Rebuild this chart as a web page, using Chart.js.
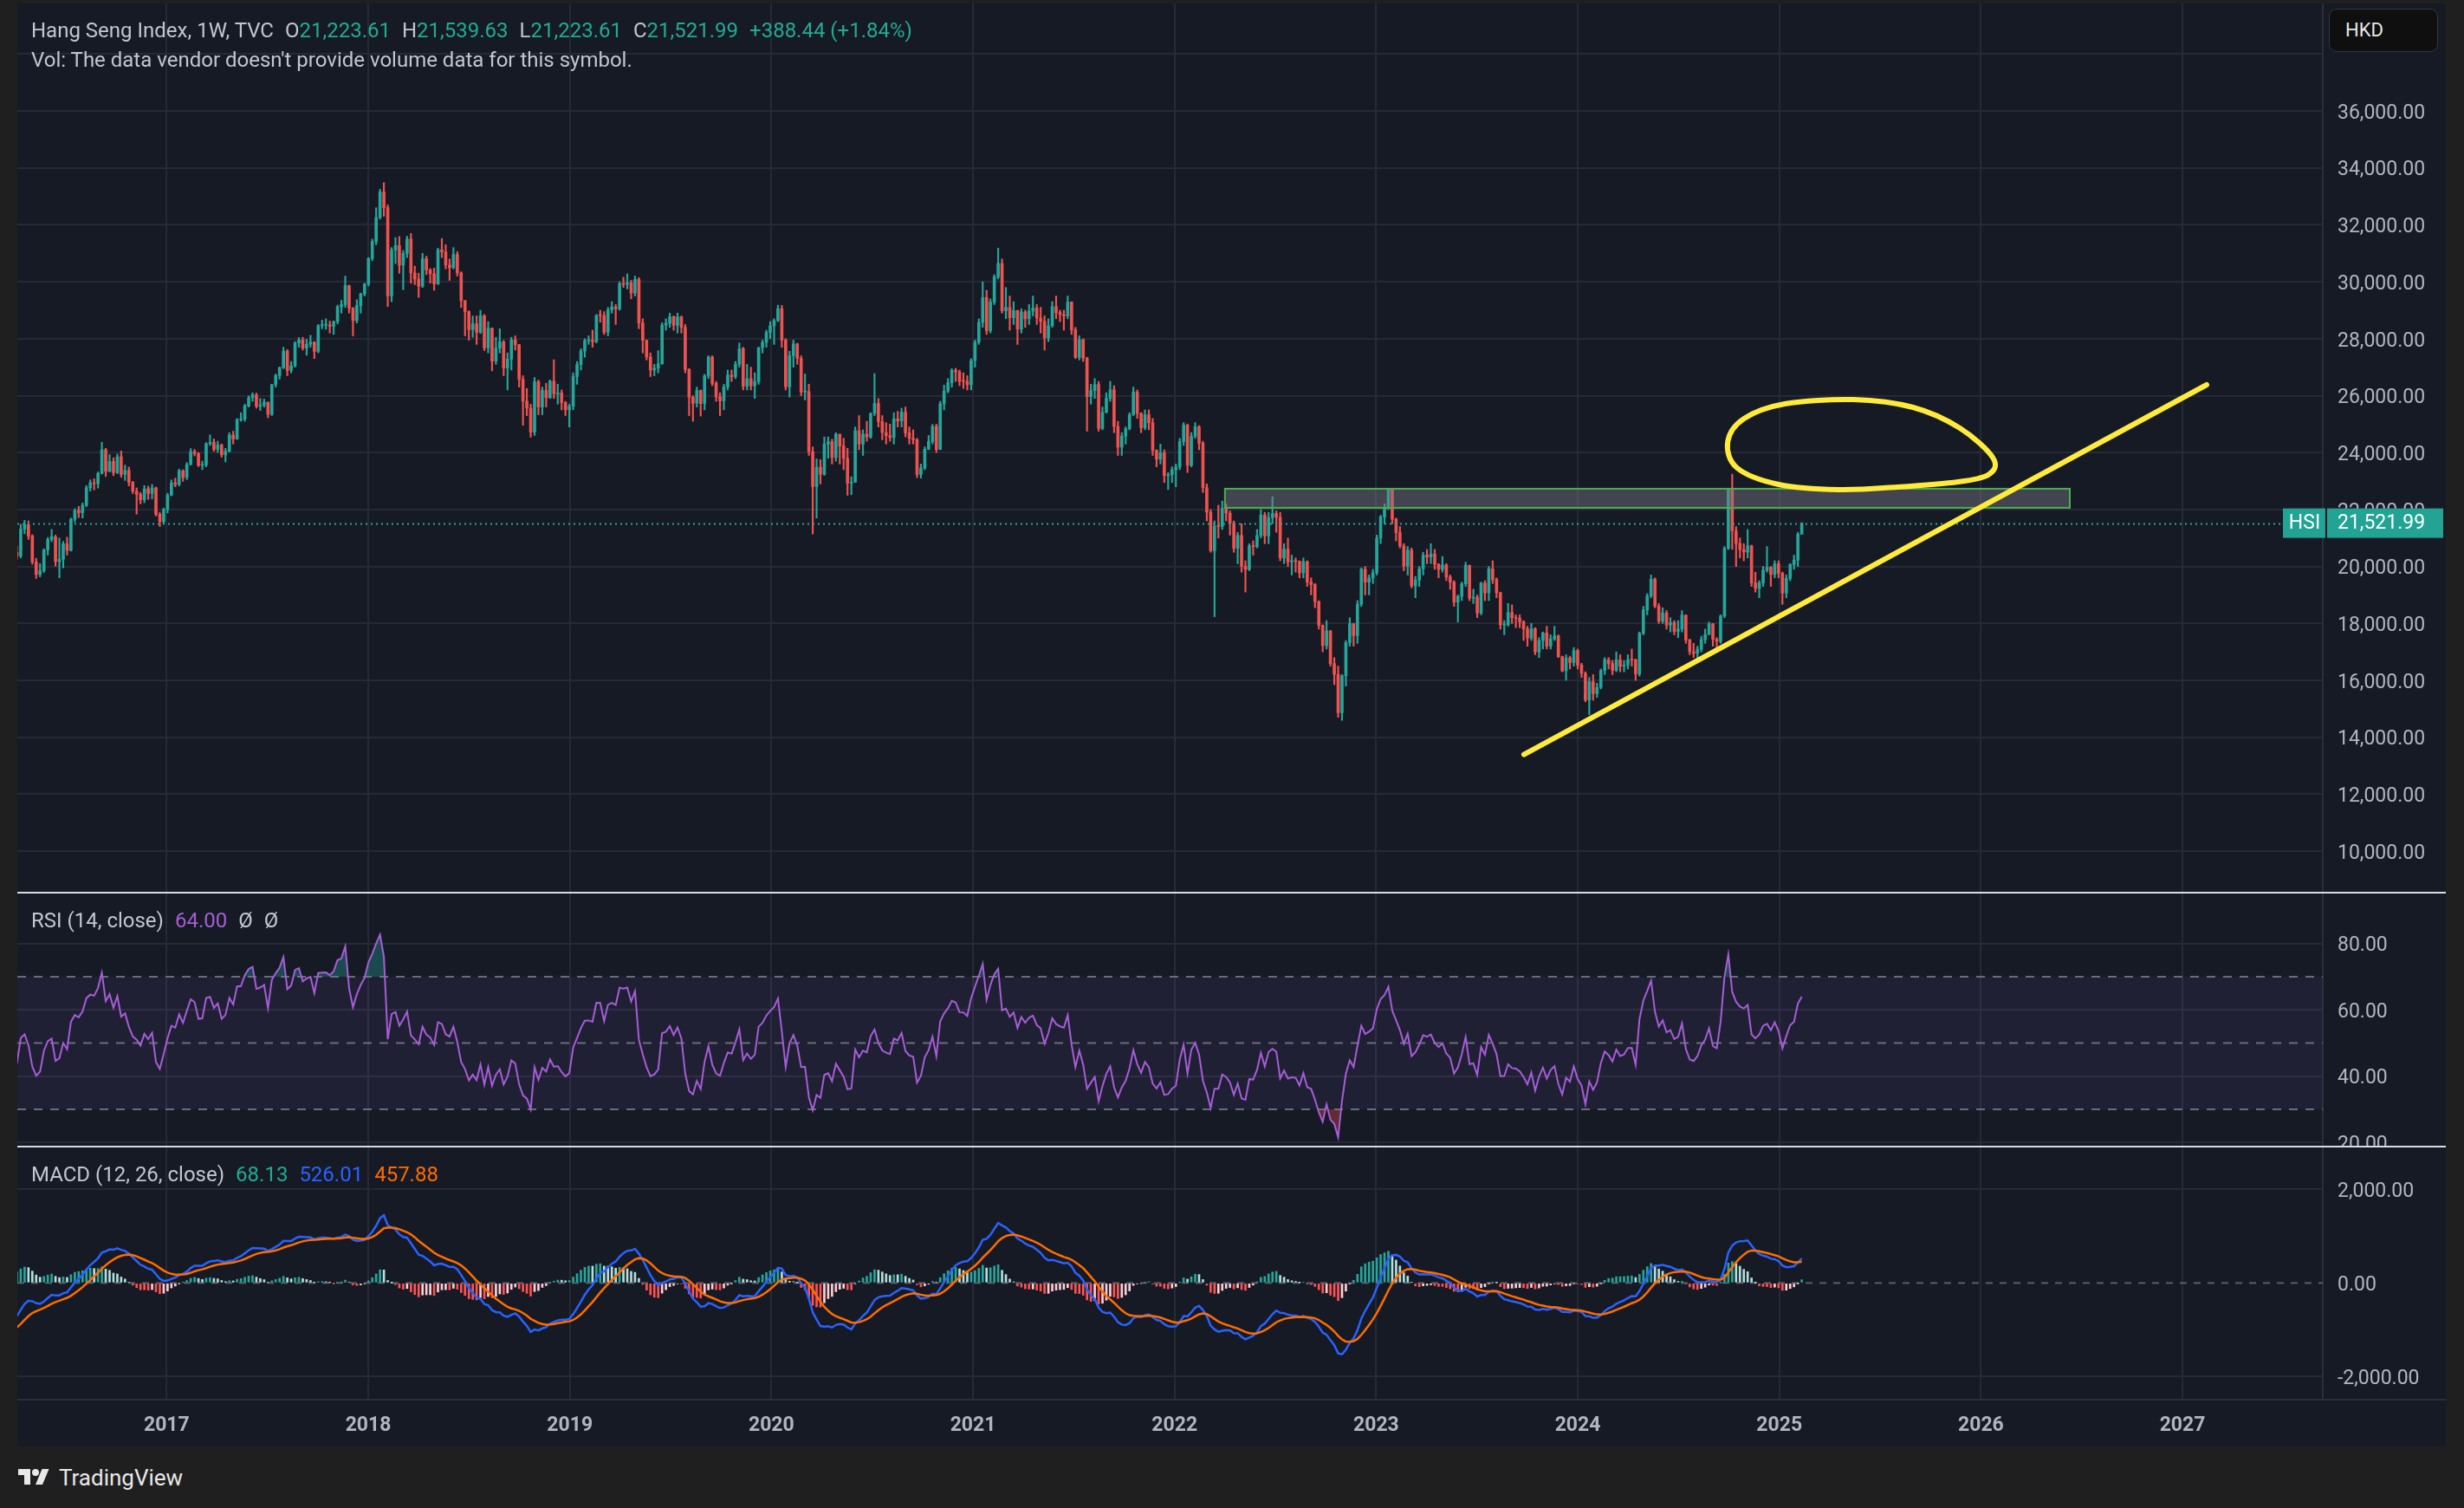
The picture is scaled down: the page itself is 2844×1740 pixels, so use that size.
<!DOCTYPE html>
<html>
<head>
<meta charset="utf-8">
<title>Hang Seng Index, 1W, TVC</title>
<script src="https://cdn.jsdelivr.net/npm/chart.js@4.4.1/dist/chart.umd.min.js"></script>
<style>
  html, body { margin: 0; padding: 0; background: #1f1f1f; }
  body { width: 2844px; height: 1740px; position: relative; overflow: hidden; font-family: Roboto, "Noto Sans", sans-serif; }
  #frame { position: absolute; left: 20px; top: 4px; width: 2803px; height: 1665px; background: #161a25; }
  .pane { position: absolute; left: 20px; width: 2803px; }
  .sep { position: absolute; left: 20px; width: 2803px; height: 2px; background: #d9dce3; z-index: 3; }
  .legend { position: absolute; left: 36px; font-size: 24px; line-height: 28px; color: #c3c6ce; white-space: pre; z-index: 4; }
  .legend .g { margin-left: 13px; }
  .legend b { font-weight: normal; }
  .teal { color: #22ab94; }
  #hkd { position: absolute; left: 2688px; top: 10px; width: 126px; height: 50px; background: #0f0f10; border: 1px solid #34363c; border-radius: 9px; box-sizing: border-box; color: #e6e6e6; font-size: 22px; line-height: 48px; padding-left: 18px; z-index: 4; }
  #logo { position: absolute; left: 20px; top: 1690px; height: 30px; display: flex; align-items: center; gap: 10px; color: #e8e8e8; font-size: 26px; }
</style>
</head>
<body>
<div id="frame"></div>

<div class="pane" style="top:4px;height:1025px;"><canvas id="main"></canvas></div>
<div class="sep" style="top:1029px;"></div>
<div class="pane" style="top:1031px;height:291px;"><canvas id="rsi"></canvas></div>
<div class="sep" style="top:1322px;"></div>
<div class="pane" style="top:1324px;height:345px;"><canvas id="macd"></canvas></div>
<div style="position:absolute;left:20px;top:1614px;width:2803px;height:2px;background:#2a2e39;z-index:3;"></div>

<div class="legend" style="top:21px;">Hang Seng Index, 1W, TVC<span class="g">O<b class="teal">21,223.61</b></span><span class="g">H<b class="teal">21,539.63</b></span><span class="g">L<b class="teal">21,223.61</b></span><span class="g">C<b class="teal">21,521.99</b></span><b class="g teal">+388.44 (+1.84%)</b></div>
<div class="legend" style="top:55px;">Vol: The data vendor doesn't provide volume data for this symbol.</div>
<div class="legend" style="top:1048px;">RSI (14, close)<b class="g" style="color:#a65ed6">64.00</b><span class="g">Ø</span><span class="g">Ø</span></div>
<div class="legend" style="top:1341px;">MACD (12, 26, close)<b class="g teal">68.13</b><b class="g" style="color:#2962ff">526.01</b><b class="g" style="color:#ff6d00">457.88</b></div>
<div id="hkd">HKD</div>
<div id="logo">
  <svg width="38" height="28" viewBox="0 0 36 28"><path fill="#e8e8e8" d="M14 22H7V11H0V4h14v18zM28 22h-8l7.5-18h8L28 22z"/><circle fill="#e8e8e8" cx="20" cy="8" r="4"/></svg>
  <span>TradingView</span>
</div>

<script>
// Weekly bars, Monday dates starting here
const firstWeek = '2016-04-04';

// Closes of the 48 weeks before firstWeek, used only to warm up RSI / MACD (off-screen)
const warmupCloses = [27577,27822,27992,27424,27260,27280,26760,26663,26064,24901,25415,25128,24636,24552,23991,22409,21612,20840,21504,21920,
  21186,21506,22459,23067,23152,22640,22867,22396,22755,22068,22235,21464,21756,21919,21914,20453,19521,19081,19683,19289,
  18320,19286,19364,20176,20200,20671,20346,20498];

const closes = [
  // 2016
  20370,21316,21467,21067,20156,19719,19852,20577,20947,21043,20170,20259,20794,20564,21659,21964,21891,22146,22767,22937,
  22910,23266,24100,23336,23686,23297,23852,23233,23374,22955,22642,22531,22344,22724,22565,22761,21833,21575,22001,
  // 2017
  22503,22937,22886,23360,23129,23575,24034,23966,23553,23569,24310,24358,24112,24267,23925,24043,24615,24477,25156,25175,
  25639,25925,26030,25626,25670,25765,25341,26389,26706,26980,27563,26884,27048,27848,27953,27668,27808,27880,27554,28458,
  28477,28487,28439,28604,29121,29199,29866,29074,28640,29166,29578,29919,
  // 2018
  30815,31413,32255,33154,32602,29507,31115,31268,30583,30996,31502,30309,30093,29845,30809,30418,30281,29927,31122,31048,
  30588,30493,30958,30309,29339,28955,28316,28525,28224,28804,27676,28367,27213,27672,27889,26973,27286,27954,27789,26573,
  25801,25561,24718,26486,25601,26184,25928,26507,26063,26095,25754,25504,25626,
  // 2019
  26667,27091,27570,27931,27946,27901,28816,28813,28228,29012,29113,29051,29936,29909,29963,29605,30082,28550,27946,27354,
  26901,26965,27118,28473,28543,28775,28471,28766,28397,26919,25939,25734,26179,25725,26691,27353,26435,25955,25821,26308,
  26720,26667,27101,27651,26327,26596,26346,26498,27688,27871,28225,28452,
  // 2020
  28638,29056,27950,26313,27404,27816,27309,26130,26147,24033,22805,23484,23236,24300,24380,23832,24644,24230,23797,22930,
  22961,24770,24301,24644,24549,25373,25727,25089,24705,24595,24531,25183,25113,25422,24695,24503,24455,23235,23459,24119,
  24387,24919,24107,25713,26157,26452,26895,26836,26506,26499,26387,27231,
  // 2021
  27878,28573,29447,28283,29289,30173,30644,28980,29099,28740,28991,28336,28939,28699,28970,29079,28725,28611,28027,28458,
  29124,28918,28842,28801,29288,28310,27344,27963,27322,25961,26179,26391,24849,25408,25902,26205,24921,24192,24576,24838,
  25331,26127,25377,24871,25328,25050,24081,23767,23996,23193,23224,23398,
  // 2022
  23493,24383,24966,23550,24573,24906,24328,22767,21906,20554,21412,21405,22039,21872,21518,20639,21089,20002,19899,20718,
  20697,21083,21806,21075,21719,21860,21726,20297,20610,20157,20202,20176,19774,20171,19453,19362,18762,17933,17223,17740,
  16588,16212,14863,16161,17326,17993,17573,18675,19901,19451,19593,19781,
  // 2023
  20991,21738,22045,22689,21660,21190,20719,20010,20568,19320,19519,19916,20400,20332,20439,20076,19895,20050,19628,19451,
  18747,18950,19390,20041,18890,18916,18366,19414,19075,19917,19539,19075,17951,17956,18382,18202,18182,18057,17810,17485,
  17813,16995,17399,17664,17203,17454,17560,16831,16335,16792,16625,17047,
  // 2024
  16535,16245,15309,15952,15534,15747,16340,16726,16590,16354,16721,16499,16541,16724,16722,16224,17651,18476,18964,19554,
  18609,18080,18367,17942,18028,17719,17800,18293,17418,17005,16946,17091,17430,17612,17989,17444,17369,18258,20632,22737,
  21252,20804,20590,20506,20728,19426,19230,19424,19866,19971,19720,20090,
  // 2025
  19760,19064,19584,20066,20225,21133,21521.99
];

const highs = [
  20720,21480,21620,21600,21120,20290,20100,20620,21020,21300,21100,21000,20880,21030,21700,22030,22110,22230,22840,23040,
  23080,23320,24360,24150,23930,23820,23950,24060,23560,23490,22990,22760,22600,22840,22820,22880,22790,21900,22050,
  22570,23040,23100,23420,23400,23650,24140,24110,24000,23700,24350,24620,24480,24400,24300,24150,24700,24750,25200,25400,
  25700,25990,26100,26090,25900,25880,25780,26400,26760,27010,27700,27620,27200,27900,28040,28050,27980,28120,27900,28500,
  28650,28700,28620,28620,29180,29350,30200,29880,29100,29370,29600,29950,
  30850,31500,32600,33250,33480,32700,31200,31550,31590,31100,31600,31700,30550,30300,31000,30900,30460,30480,31180,31520,
  31300,30800,31200,31060,30350,29340,28980,28800,28800,29000,28850,28600,28380,28050,28350,27940,27500,28050,28100,27800,
  26700,26250,25700,26640,26550,26300,26430,26550,27260,26400,26200,25800,25700,
  26800,27200,27650,28000,28100,28300,28850,29000,28950,29100,29300,29200,30000,30160,30280,30050,30200,30150,28700,27950,
  27500,27100,27580,28560,28700,28900,28800,28900,28800,28500,26950,26000,26300,26200,26750,27400,27400,26500,26100,26400,
  26900,26900,27200,27850,27700,27100,27000,26800,27700,27950,28300,28600,
  28700,29180,29170,28000,27560,27950,27840,27400,26760,26400,24200,23780,23750,24550,24550,24470,24700,24650,24500,24150,
  23150,24900,25300,24800,25100,25400,26780,25900,25300,25050,25000,25400,25450,25560,25600,24900,24800,24500,23600,24200,
  24600,24990,25000,25800,26370,26600,26950,26960,26900,26800,26700,27300,
  27950,28700,30000,29700,29400,30250,31183,30800,29800,29500,29300,29000,29050,29000,29200,29500,29200,29100,28800,28700,
  29300,29500,29000,29000,29500,29300,28400,28100,28000,27350,26400,26600,26500,25600,26100,26500,26350,25100,24700,24900,
  25400,26300,26200,25400,25500,25500,25200,24100,24300,24100,23300,23500,
  23600,24500,25050,25000,24700,25050,24950,24400,22900,22000,21600,22150,22300,22200,21950,21600,21200,21500,20200,20800,
  20900,21300,22000,21900,21900,22450,21950,21900,20800,21000,20400,20300,20200,20300,20200,19600,19400,18800,17950,18100,
  17750,16800,16500,16200,17400,18200,18000,18800,19950,20000,19700,19900,
  21100,21800,22200,22700,22700,21700,21400,20800,20700,20650,19650,20000,20500,20600,20800,20600,20100,20350,20100,19700,
  19500,19000,19450,20150,20050,19200,19000,19450,19500,20000,20200,19600,19100,18100,18700,18650,18300,18300,18100,17900,
  18000,17850,17500,17700,17900,17600,17900,17600,16850,16900,16850,17150,
  17100,16600,16300,16100,16200,15900,16400,16800,16800,16700,17000,16900,16700,16900,17100,16750,17700,18600,19050,19700,
  19600,18700,18550,18450,18200,18100,18100,18450,18300,17450,17300,17200,17550,17800,18050,18000,17500,18300,20700,22750,
  23241,21400,21000,20800,21300,20750,19800,19500,20000,20700,20000,20200,
  20200,19800,19700,20100,20400,21200,21539.63
];

const lows = [
  20250,20300,21150,20950,20080,19580,19640,19790,20400,20870,20010,19600,19950,20400,20540,21560,21720,21700,22100,22650,
  22690,22750,23250,23160,23330,23190,23260,23130,23020,22830,22560,21840,22200,22240,22360,22370,21770,21400,21490,
  21880,22480,22800,22830,22990,23050,23570,23880,23510,23400,23500,24250,24050,24000,23840,23670,24020,24300,24460,25100,
  25100,25600,25800,25560,25480,25600,25220,25300,26300,26580,26950,26700,26800,27000,27700,27600,27420,27700,27300,27500,
  28350,28330,28200,28150,28520,28900,29100,28900,28100,28550,28900,29500,
  29850,30740,31300,32200,32300,29130,29300,30640,30300,29720,30850,29950,29900,29450,29800,30250,29950,29700,29900,30850,
  30450,30050,30450,30200,29100,28100,27950,28050,27800,28180,27580,27500,26870,27100,27500,26700,26200,26900,27600,26300,
  24960,25300,24540,24600,25330,25330,25600,25900,25900,25700,25500,25300,24900,
  25500,26400,26900,27350,27800,27700,27850,28580,28150,28100,28900,28500,29000,29800,29750,29400,29500,28350,27500,27250,
  26670,26700,26800,27100,28300,28400,28300,28200,28200,26800,25300,25100,25600,25280,25500,26600,26350,25800,25300,25500,
  26200,26500,26600,27000,26200,26200,26200,25900,26400,27500,27700,28000,
  27800,28600,27700,26200,25950,27000,27100,26000,25850,23900,21139,21700,22900,23200,23800,23600,23700,23600,23400,22500,
  22520,22950,24100,23900,24400,24500,25300,24900,24450,24300,24400,24300,24900,24900,24550,24300,24300,23120,23100,23400,
  24100,24300,24000,24100,25500,26100,26300,26500,26350,26250,26200,26200,
  27000,27800,28400,28150,28200,29200,30100,28900,28700,28300,28500,27800,28200,28400,28500,28800,28500,28200,27600,27900,
  28400,28700,28600,28300,28700,28150,27300,27250,27200,24750,25700,25900,24750,24800,25400,25800,24700,23900,23900,24300,
  24800,25300,25200,24700,24800,24800,23900,23500,23600,22950,22700,22950,
  22800,23400,24250,23300,23500,24500,24100,22600,21600,20500,18235,21000,21300,21600,21100,20500,20100,19800,19100,19850,
  20400,20650,21000,20800,20800,21500,21200,20200,20100,20000,19700,19800,19600,19600,19300,19000,18550,17800,17000,17100,
  16500,15850,14700,14597,15800,17200,17200,17300,18600,19000,19000,19400,
  19700,20800,21500,22000,21500,20900,20650,19850,19700,19250,18900,19300,19700,20100,20100,19900,19600,19800,19500,19200,
  18600,18050,18800,19300,18800,18700,18200,18300,18800,18800,19400,18900,17800,17600,17900,18000,17850,17850,17400,17200,
  17400,16900,16800,17100,17100,17100,17400,16800,16300,16000,16400,16500,
  16400,16100,15250,14794,15300,15400,15700,16200,16400,16200,16300,16300,16300,16400,16500,16000,16150,17600,18300,18900,
  18550,18000,18000,17800,17700,17600,17500,17700,17300,16900,16800,16650,17000,17300,17600,17200,17000,17300,18200,20600,
  20600,20000,20300,20200,20300,19300,19100,18900,19300,19800,19300,19600,
  19600,18670,18900,19500,19900,20000,21133
];

// Tick values of the axes
const yearTicks = [2017, 2018, 2019, 2020, 2021, 2022, 2023, 2024, 2025, 2026, 2027];
const priceTicks = [10000, 12000, 14000, 16000, 18000, 20000, 22000, 24000, 26000, 28000, 30000, 32000, 34000, 36000, 38000];
const rsiTicks = [20, 40, 60, 80];
const macdTicks = [-2000, 0, 2000];

// Chart drawings (time in decimal years, price in points)
const zoneBox = { from: 2022.25, to: 2026.441, low: 22060, high: 22730 };
const trendLine = [[2023.733, 13394], [2027.12, 26381]];
const loopMark = [
  [2024.744, 24371], [2024.825, 25193], [2025.027, 25711], [2025.367, 25863], [2025.663, 25589],
  [2025.896, 24858], [2026.059, 23824], [2026.042, 23245], [2025.887, 22971], [2025.586, 22789],
  [2025.294, 22697], [2024.997, 22880], [2024.791, 23458]
];

// Visible windows of the panes
const timeRange = { min: 2016.2592, max: 2027.696 };
const priceRange = { min: 8573, max: 39775 };
const rsiRange = { min: 19.0, max: 95.1 };
const macdRange = { min: -2493, max: 2896 };

const UP = '#26a69a', DOWN = '#ef5350';
const GRID = '#262a36';
const AXIS_TEXT = '#b2b5be';
const FONT = 'Roboto, "Noto Sans", sans-serif';

Chart.defaults.font.family = FONT;
Chart.defaults.animation = false;

// --- derived series ---
const DAY = 86400000;
const t0 = Date.parse(firstWeek + 'T00:00:00Z');
const toYear = ms => 1970 + ms / DAY / 365.2425;
const xs = closes.map((_, i) => toYear(t0 + i * 7 * DAY));
// weekly open taken as the previous week's close
const opens = closes.map((c, i) => i === 0 ? warmupCloses[warmupCloses.length - 1] : closes[i - 1]);

const wickPts = xs.map((x, i) => ({ x, y: [Math.min(lows[i], opens[i], closes[i]), Math.max(highs[i], opens[i], closes[i])] }));
const bodyPts = xs.map((x, i) => ({ x, y: [opens[i], closes[i]] }));
const candleColors = closes.map((c, i) => c >= opens[i] ? UP : DOWN);

const allCloses = warmupCloses.concat(closes);
const skip = warmupCloses.length;

function rsi(src, len) {
  const out = new Array(src.length).fill(null);
  let g = 0, l = 0;
  for (let i = 1; i < src.length; i++) {
    const d = src[i] - src[i - 1];
    const up = Math.max(d, 0), dn = Math.max(-d, 0);
    if (i <= len) { g += up / len; l += dn / len; }
    else { g = (g * (len - 1) + up) / len; l = (l * (len - 1) + dn) / len; }
    if (i >= len) out[i] = l === 0 ? 100 : 100 - 100 / (1 + g / l);
  }
  return out;
}
function ema(src, len) {
  const k = 2 / (len + 1);
  let e = src[0];
  return src.map((v, i) => (e = i ? v * k + e * (1 - k) : v));
}

const rsiAll = rsi(allCloses, 14);
const ema12 = ema(allCloses, 12), ema26 = ema(allCloses, 26);
const macdAll = ema12.map((v, i) => v - ema26[i]);
const signalAll = ema(macdAll, 9);
const histAll = macdAll.map((v, i) => v - signalAll[i]);

const rsiPts = xs.map((x, i) => ({ x, y: rsiAll[i + skip] }));
const macdPts = xs.map((x, i) => ({ x, y: macdAll[i + skip] }));
const signalPts = xs.map((x, i) => ({ x, y: signalAll[i + skip] }));
const histPts = xs.map((x, i) => ({ x, y: histAll[i + skip] }));
const histColors = xs.map((_, i) => {
  const h = histAll[i + skip], p = histAll[i + skip - 1];
  return h >= 0 ? (p < h ? '#26a69a' : '#b2dfdb') : (p < h ? '#ffcdd2' : '#ff5252');
});

// --- axes ---
const fmt = v => v.toLocaleString('en-US', { minimumFractionDigits: 2, maximumFractionDigits: 2 });
const useTicks = list => s => { s.ticks = list.map(v => ({ value: v })); };

function timeAxis(showLabels) {
  return {
    type: 'linear', min: timeRange.min, max: timeRange.max, offset: false,
    grid: { color: GRID, lineWidth: 2, drawTicks: false, offset: false },
    border: { display: false },
    afterBuildTicks: useTicks(yearTicks),
    ticks: {
      display: showLabels, autoSkip: false, maxRotation: 0,
      padding: 16, color: AXIS_TEXT, font: { size: 23, weight: 'bold' },
      callback: v => String(v)
    },
    afterFit: s => { s.paddingLeft = 0; s.paddingRight = 0; if (showLabels) s.height = 54; }
  };
}
function valueAxis(range, tickList, label, grid) {
  return {
    type: 'linear', position: 'right', min: range.min, max: range.max,
    grid: { color: grid || GRID, lineWidth: 2, drawTicks: false },
    border: { display: true, color: '#2a2e39', width: 2 },
    afterBuildTicks: useTicks(tickList),
    ticks: { autoSkip: false, padding: 17, labelOffset: 3, color: AXIS_TEXT, font: { size: 23 }, callback: label },
    afterFit: s => { s.width = 142; s.paddingTop = 0; s.paddingBottom = 0; }
  };
}
const baseOptions = {
  responsive: true, maintainAspectRatio: false, devicePixelRatio: 1, events: [],
  layout: { padding: 0 },
  plugins: { legend: { display: false }, tooltip: { enabled: false } }
};

function hline(ctx, area, y, color, dash, width) {
  ctx.save();
  ctx.strokeStyle = color; ctx.lineWidth = width || 2; ctx.setLineDash(dash || []);
  ctx.beginPath(); ctx.moveTo(area.left, y); ctx.lineTo(area.right, y); ctx.stroke();
  ctx.restore();
}

// closed Catmull-Rom curve through points (already in pixels)
function closedCurve(ctx, pts) {
  const n = pts.length;
  ctx.beginPath();
  ctx.moveTo(pts[0][0], pts[0][1]);
  for (let i = 0; i < n; i++) {
    const p0 = pts[(i - 1 + n) % n], p1 = pts[i], p2 = pts[(i + 1) % n], p3 = pts[(i + 2) % n];
    ctx.bezierCurveTo(
      p1[0] + (p2[0] - p0[0]) / 6, p1[1] + (p2[1] - p0[1]) / 6,
      p2[0] - (p3[0] - p1[0]) / 6, p2[1] - (p3[1] - p1[1]) / 6,
      p2[0], p2[1]);
  }
  ctx.stroke();
}

// --- price pane ---
const drawings = {
  id: 'drawings',
  afterDatasetsDraw(chart) {
    const { ctx, chartArea: a, scales: { x, y } } = chart;
    ctx.save();
    ctx.beginPath(); ctx.rect(a.left, a.top, a.right - a.left, a.bottom - a.top); ctx.clip();

    const bx0 = x.getPixelForValue(zoneBox.from), bx1 = x.getPixelForValue(zoneBox.to);
    const by0 = y.getPixelForValue(zoneBox.high), by1 = y.getPixelForValue(zoneBox.low);
    ctx.fillStyle = 'rgba(120,123,134,0.45)';
    ctx.fillRect(bx0, by0, bx1 - bx0, by1 - by0);
    ctx.strokeStyle = '#4caf50'; ctx.lineWidth = 2;
    ctx.strokeRect(bx0, by0, bx1 - bx0, by1 - by0);

    const last = closes[closes.length - 1];
    hline(ctx, a, Math.round(y.getPixelForValue(last)) + 0.5, UP, [2, 4], 2);

    ctx.strokeStyle = '#ffeb3b'; ctx.lineWidth = 6; ctx.lineCap = 'round'; ctx.lineJoin = 'round';
    ctx.beginPath();
    ctx.moveTo(x.getPixelForValue(trendLine[0][0]), y.getPixelForValue(trendLine[0][1]));
    ctx.lineTo(x.getPixelForValue(trendLine[1][0]), y.getPixelForValue(trendLine[1][1]));
    ctx.stroke();

    closedCurve(ctx, loopMark.map(p => [x.getPixelForValue(p[0]), y.getPixelForValue(p[1])]));
    ctx.restore();
  },
  afterDraw(chart) {
    const { ctx, chartArea: a, scales: { y } } = chart;
    const last = closes[closes.length - 1];
    const py = y.getPixelForValue(last);
    ctx.save();
    ctx.fillStyle = '#22a393';
    ctx.fillRect(a.right - 46, py - 17, 49, 34);
    ctx.fillRect(a.right + 5, py - 17, 134, 34);
    ctx.fillStyle = '#ffffff';
    ctx.font = '23px ' + FONT;
    ctx.textBaseline = 'middle';
    ctx.textAlign = 'center';
    ctx.fillText('HSI', a.right - 21, py + 1);
    ctx.textAlign = 'left';
    ctx.fillText(fmt(last), a.right + 17, py + 1);
    ctx.restore();
  }
};

new Chart(document.getElementById('main'), {
  type: 'bar',
  data: {
    datasets: [
      { data: wickPts, backgroundColor: candleColors, barThickness: 1.5, grouped: false, borderWidth: 0 },
      { data: bodyPts, backgroundColor: candleColors, barThickness: 3, grouped: false, borderWidth: 0, minBarLength: 1 }
    ]
  },
  options: Object.assign({}, baseOptions, {
    scales: {
      x: timeAxis(false),
      y: valueAxis(priceRange, priceTicks, v => v > 37000 ? '' : fmt(v))
    }
  }),
  plugins: [drawings]
});

// --- RSI pane ---
const rsiGuides = {
  id: 'rsiGuides',
  beforeDatasetsDraw(chart) {
    const { ctx, chartArea: a, scales: { y } } = chart;
    const y70 = y.getPixelForValue(70), y30 = y.getPixelForValue(30);
    ctx.save();
    ctx.fillStyle = 'rgba(126,87,194,0.1)';
    ctx.fillRect(a.left, y70, a.right - a.left, y30 - y70);
    ctx.restore();
    [70, 50, 30].forEach(v => hline(ctx, a, y.getPixelForValue(v), 'rgba(120,123,134,0.85)', [10, 9], 2));
  }
};

new Chart(document.getElementById('rsi'), {
  type: 'line',
  data: {
    datasets: [
      { data: rsiPts, borderColor: '#a65ed6', borderWidth: 2, pointRadius: 0, tension: 0,
        fill: { target: { value: 70 }, above: 'rgba(38,166,154,0.35)', below: 'rgba(0,0,0,0)' } },
      { data: rsiPts, borderWidth: 0, borderColor: 'rgba(0,0,0,0)', pointRadius: 0,
        fill: { target: { value: 30 }, above: 'rgba(0,0,0,0)', below: 'rgba(239,83,80,0.35)' } }
    ]
  },
  options: Object.assign({}, baseOptions, {
    scales: { x: timeAxis(false), y: valueAxis(rsiRange, rsiTicks, v => fmt(v)) }
  }),
  plugins: [rsiGuides]
});

// --- MACD pane ---
const zeroLine = {
  id: 'zeroLine',
  beforeDatasetsDraw(chart) {
    const { ctx, chartArea: a, scales: { y } } = chart;
    hline(ctx, a, y.getPixelForValue(0), 'rgba(120,123,134,0.7)', [8, 8], 2);
  }
};

new Chart(document.getElementById('macd'), {
  type: 'bar',
  data: {
    datasets: [
      { type: 'bar', data: histPts, backgroundColor: histColors, barThickness: 2, grouped: false, borderWidth: 0, order: 3 },
      { type: 'line', data: macdPts, borderColor: '#2962ff', borderWidth: 2.5, pointRadius: 0, order: 2 },
      { type: 'line', data: signalPts, borderColor: '#ff6d00', borderWidth: 2.5, pointRadius: 0, order: 1 }
    ]
  },
  options: Object.assign({}, baseOptions, {
    scales: {
      x: timeAxis(true),
      y: valueAxis(macdRange, macdTicks, v => fmt(v), c => (c.tick && c.tick.value === 0) ? 'rgba(0,0,0,0)' : GRID)
    }
  }),
  plugins: [zeroLine]
});
</script>
</body>
</html>
